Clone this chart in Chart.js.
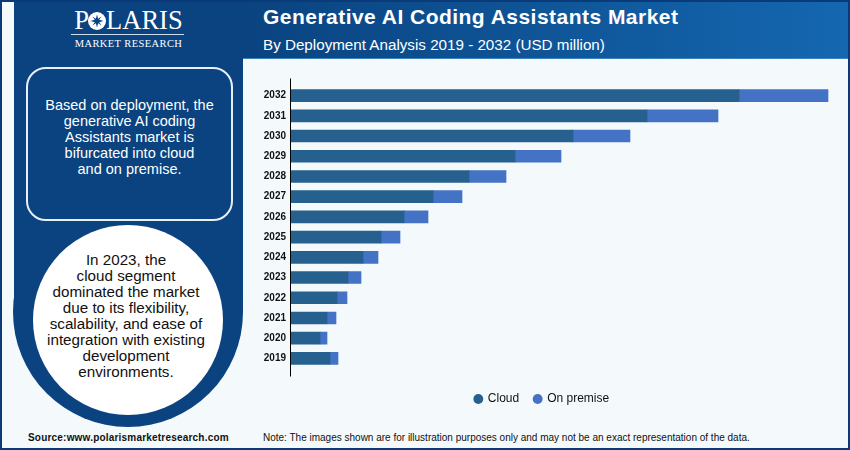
<!DOCTYPE html>
<html><head><meta charset="utf-8">
<script src="https://cdn.jsdelivr.net/npm/chart.js@4/dist/chart.umd.min.js"></script>
<style>
html,body{margin:0;padding:0;background:#f4f9fc;}
#page{position:relative;width:850px;height:450px;overflow:hidden;background:#f4f9fc;font-family:"Liberation Sans",Arial,sans-serif;}
#page div{position:absolute;box-sizing:border-box;}
.t{text-align:center;white-space:nowrap;}
</style></head><body>
<div id="page">
  <div style="left:243px;top:2px;width:605px;height:57px;background:linear-gradient(90deg,#0a4380 0%,#1467b0 100%);border-bottom:1px solid #3d82bd"></div>
  <div style="left:14px;top:2px;width:229px;height:310px;background:#0a4380"></div>
  <div style="left:13px;top:197px;width:230px;height:230px;border-radius:50%;background:#0a4380"></div>
  <div style="left:33px;top:225px;width:190px;height:190px;border-radius:50%;background:#fff"></div>
  <div style="left:26px;top:67px;width:207px;height:154px;border:2px solid #e8f0f7;border-radius:20px"></div>
  <div style="left:0;top:0;width:850px;height:450px;border:2px solid #0b3a78;pointer-events:none"></div>

  <div class="t" style="left:0;top:3px;width:257px;font:26.5px 'Liberation Serif',serif;color:#fff;line-height:34px">P<svg width="18" height="18" viewBox="-12.5 -12.5 25 25" style="vertical-align:-1px;margin:0 0 0 -1px"><circle r="12.5" fill="#fff"/><path d="M0-9 1.6-3 6.4-6.4 3-1.6 9 0 3 1.6 6.4 6.4 1.6 3 0 9-1.6 3-6.4 6.4-3 1.6-9 0-3-1.6-6.4-6.4-1.6-3Z" fill="#0a4380"/></svg>LARIS</div>
  <div style="left:71px;top:34px;width:113px;height:1px;background:#cfdcea"></div>
  <div class="t" style="left:0;top:36px;width:257px;font:10.5px 'Liberation Serif',serif;color:#fff;letter-spacing:.4px;line-height:15px">MARKET RESEARCH</div>

  <div class="t" style="left:263px;top:5px;font:bold 21px 'Liberation Sans',sans-serif;color:#fff;line-height:24px;letter-spacing:.47px">Generative AI Coding Assistants Market</div>
  <div class="t" style="left:263px;top:35px;font:15.2px 'Liberation Sans',sans-serif;color:#fff;line-height:20px">By Deployment Analysis 2019 - 2032 (USD million)</div>

  <div class="t" style="left:26px;top:97px;width:207px;font:14.5px/16px 'Liberation Sans',sans-serif;color:#fff">Based on deployment, the<br>generative AI coding<br>Assistants market is<br>bifurcated into cloud<br>and on premise.</div>
  <div class="t" style="left:31px;top:252px;width:190px;font:15.2px/16px 'Liberation Sans',sans-serif;color:#111">In 2023, the<br>cloud segment<br>dominated the market<br>due to its flexibility,<br>scalability, and ease of<br>integration with existing<br>development<br>environments.</div>

  <div class="t" style="left:28px;top:431px;font:bold 10px/14px 'Liberation Sans',sans-serif;color:#111;letter-spacing:.2px">Source:www.polarismarketresearch.com</div>
  <div class="t" style="left:263px;top:431px;font:10px/14px 'Liberation Sans',sans-serif;color:#111">Note: The images shown are for illustration purposes only and may not be an exact representation of the data.</div>

  <div style="left:243px;top:65px;width:598px;height:350px"><canvas id="c" width="598" height="350"></canvas></div>
</div>
<script>
const years = ['2032','2031','2030','2029','2028','2027','2026','2025','2024','2023','2022','2021','2020','2019'];
const cloud = [448,356,282,224,178,142,113,90,72,57,46,36,29,39];
const onPremise = [89,71,57,46,37,29,24,19,15,13,10,9,7,8];

const axisLine = {
  id:'axisLine',
  afterDatasetsDraw(chart){
    const {ctx,chartArea:a}=chart;
    ctx.save();ctx.strokeStyle='#000';ctx.lineWidth=1;
    ctx.beginPath();ctx.moveTo(a.left-0.5,a.top-7);ctx.lineTo(a.left-0.5,a.bottom+8);ctx.stroke();ctx.restore();
  }
};
new Chart(document.getElementById('c'),{
  type:'bar',
  data:{labels:years,datasets:[
    {label:'Cloud',data:cloud,backgroundColor:'#25608f',stack:'s',barThickness:12},
    {label:'On premise',data:onPremise,backgroundColor:'#4472c4',stack:'s',barThickness:12}
  ]},
  options:{
    indexAxis:'y',responsive:false,animation:false,
    layout:{padding:{top:20.5,right:0,left:0,bottom:0}},
    plugins:{
      tooltip:{enabled:false},
      legend:{position:'bottom',align:'center',
        labels:{usePointStyle:true,pointStyle:'circle',boxWidth:7,boxHeight:7,padding:15,color:'#111',font:{family:'Liberation Sans',size:12}}}
    },
    scales:{
      x:{display:true,stacked:true,min:0,max:550,grid:{display:false},border:{display:false},ticks:{display:false},
        afterFit(s){s.height=9.5;}},
      y:{stacked:true,grid:{display:false,drawTicks:false},border:{display:false},
        afterFit(s){s.width=48;},
        ticks:{color:'#111',padding:5,font:{family:'Liberation Sans',size:10,weight:'bold'}}}
    }
  },
  plugins:[axisLine]
});
</script>
</body></html>
